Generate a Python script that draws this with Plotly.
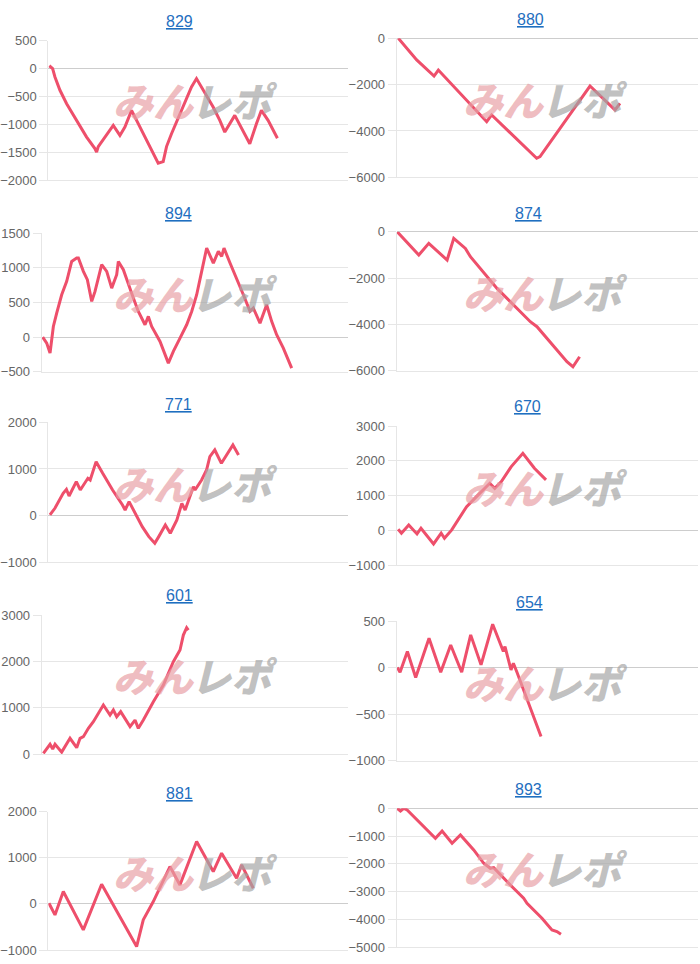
import plotly.graph_objects as go

W, H = 700, 964

# ---------------- data (x = games played, y = cumulative difference) ----------------
titles = ["829", "880", "894", "874", "771", "670", "601", "654", "881", "893"]

x_829 = [33, 144, 222, 389, 611, 944, 1277, 1554, 1610, 1665, 2165, 2387, 2553, 2775, 3053, 3386, 3663, 3830, 3941, 4107, 4385, 4607, 4773, 4940, 5162, 5495, 5717, 5883, 6216, 6494, 6716, 6938, 7104, 7326, 7637]
y_829 = [50, 0, -150, -390, -630, -930, -1230, -1435, -1500, -1400, -1020, -1200, -1050, -750, -1050, -1400, -1700, -1670, -1400, -1170, -810, -510, -330, -180, -390, -690, -930, -1140, -840, -1110, -1350, -990, -750, -930, -1250]

x_880 = [55, 663, 1238, 1381, 2984, 3149, 4641, 4752, 6409, 7238, 7404]
y_880 = [0, -935, -1630, -1370, -3600, -3310, -5180, -5110, -2060, -3090, -2810]

x_894 = [33, 163, 272, 380, 489, 652, 815, 978, 1141, 1196, 1359, 1489, 1631, 1739, 1957, 2120, 2283, 2446, 2500, 2663, 2989, 3152, 3370, 3478, 3587, 3859, 4131, 4294, 4511, 4728, 4892, 5055, 5218, 5381, 5598, 5761, 5870, 5946, 6142, 6359, 6577, 6794, 6902, 7120, 7337, 7500, 7663, 7881, 8153]
y_894 = [0, -87, -230, 154, 347, 612, 805, 1094, 1142, 1142, 950, 829, 516, 660, 1046, 950, 708, 901, 1094, 974, 564, 371, 178, 299, 154, -63, -376, -207, -14, 178, 371, 612, 950, 1287, 1070, 1239, 1166, 1287, 1070, 853, 612, 371, 419, 202, 467, 227, 34, -159, -448]

x_874 = [22, 739, 1070, 1677, 1897, 2283, 2449, 3331, 4434, 4655, 5647, 5846, 6067]
y_874 = [0, -1007, -504, -1223, -288, -720, -1079, -2446, -3885, -4101, -5612, -5828, -5396]

x_771 = [55, 220, 495, 604, 692, 934, 1066, 1319, 1396, 1594, 1813, 2143, 2473, 2561, 2693, 3132, 3352, 3550, 3682, 3901, 4066, 4286, 4451, 4561, 4836, 4891, 5110, 5275, 5385, 5550, 5770, 6154, 6341]
y_771 = [14, 157, 478, 564, 421, 728, 550, 800, 764, 1157, 907, 550, 228, 121, 300, -236, -450, -593, -450, -200, -378, -93, 264, 121, 621, 550, 764, 978, 1264, 1407, 1121, 1514, 1300]

x_670 = [55, 164, 406, 680, 811, 1228, 1480, 1589, 1830, 2050, 2324, 2707, 3091, 3255, 3474, 3803, 4187, 4570, 4954]
y_670 = [29, -86, 153, -105, 58, -393, -86, -230, 10, 297, 681, 1017, 1352, 1208, 1400, 1832, 2215, 1784, 1448]

x_601 = [54, 163, 272, 359, 435, 652, 924, 1141, 1250, 1359, 1522, 1685, 2011, 2229, 2337, 2446, 2576, 2881, 3044, 3152, 3315, 3642, 3968, 4294, 4511, 4620, 4728, 4783]
y_601 = [14, 122, 209, 108, 209, 40, 338, 137, 338, 374, 554, 697, 1057, 841, 949, 805, 913, 590, 733, 554, 733, 1129, 1488, 1992, 2243, 2567, 2725, 2675]

x_654 = [22, 111, 354, 630, 1072, 1459, 1790, 2155, 2453, 2796, 3182, 3536, 3591, 3790, 3868, 3978, 4785]
y_654 = [0, -50, 172, -107, 315, -50, 243, -50, 351, 29, 465, 172, 226, -25, 47, -43, -741]

x_881 = [22, 222, 500, 1167, 1778, 2944, 3166, 3500, 4055, 4388, 4944, 5499, 5777, 6277, 6444, 6833]
y_881 = [14, -239, 268, -564, 427, -925, -347, 51, 810, 412, 1352, 701, 1099, 557, 846, 340]

x_893 = [22, 132, 243, 353, 1290, 1511, 1842, 2118, 2559, 2890, 3110, 3221, 3772, 4213, 4324, 4820, 5151, 5317, 5449]
y_893 = [0, -96, 0, -60, -1079, -815, -1259, -959, -1499, -1978, -2158, -2134, -2758, -3237, -3417, -3957, -4376, -4436, -4532]

xs = [x_829, x_880, x_894, x_874, x_771, x_670, x_601, x_654, x_881, x_893]
ys = [y_829, y_880, y_894, y_874, y_771, y_670, y_601, y_654, y_881, y_893]

y_ranges = [(-2000, 500), (-6000, 0), (-500, 1500), (-6000, 0), (-1000, 2000),
            (-1000, 3000), (0, 3000), (-1000, 500), (-1000, 2000), (-5000, 0)]
y_steps = [500, 2000, 500, 2000, 1000, 1000, 1000, 500, 1000, 1000]
x_max = 10000

# ---------------- layout geometry (pixels) ----------------
plot_boxes = [  # x0, x1, y_top, y_bottom
    (48.3, 348.3, 40.7, 180.0),
    (396.7, 698.3, 38.3, 177.3),
    (41.7, 348.3, 233.3, 371.7),
    (396.5, 698.3, 231.7, 370.7),
    (48.3, 348.3, 422.3, 562.3),
    (396.5, 698.3, 426.0, 565.0),
    (41.7, 348.3, 615.0, 754.0),
    (396.7, 698.3, 621.0, 760.7),
    (48.3, 348.3, 811.7, 950.0),
    (396.5, 698.3, 808.3, 947.3),
]
title_pos = [(180, 21.7), (530, 19.3), (178, 213.3), (528, 213.3), (178, 404),
             (527, 406.7), (179, 595.7), (529, 602.3), (180, 793.3), (528, 789)]
logo_y = [100, 99, 293, 292, 483, 487, 675, 682, 872, 868]

LINE = "#ee4f6b"
GRID = "#e6e6e6"
ZERO = "#cdcdcd"
TICK = "#666666"
FONT = "Liberation Sans, Arial, sans-serif"

fig = go.Figure()
layout = dict(
    width=W, height=H, margin=dict(l=0, r=0, t=0, b=0, pad=0, autoexpand=False),
    paper_bgcolor="white", plot_bgcolor="white", showlegend=False,
    annotations=[],
)


def px_x(v):
    return v / W


def px_y(v):
    return 1 - v / H


for i in range(10):
    n = "" if i == 0 else str(i + 1)
    x0, x1, yt, yb = plot_boxes[i]
    fig.add_trace(go.Scatter(
        x=xs[i], y=ys[i], mode="lines",
        line=dict(color=LINE, width=3), xaxis="x" + n, yaxis="y" + n,
        hoverinfo="skip",
    ))
    lo, hi = y_ranges[i]
    layout["xaxis" + n] = dict(
        domain=[px_x(x0), px_x(x1)], range=[0, x_max], anchor="y" + n,
        showgrid=False, zeroline=False, showticklabels=False, ticks="",
        showline=True, linecolor=GRID, linewidth=1, fixedrange=True,
    )
    layout["yaxis" + n] = dict(
        domain=[px_y(yb), px_y(yt)], range=[lo, hi], anchor="x" + n,
        tickmode="linear", tick0=lo, dtick=y_steps[i],
        showgrid=True, gridcolor=GRID, gridwidth=1,
        zeroline=True, zerolinecolor=ZERO, zerolinewidth=1,
        showline=True, linecolor=GRID, linewidth=1,
        ticks="outside", ticklen=8, tickcolor=GRID, tickwidth=1,
        ticklabelstandoff=0,
        tickfont=dict(family=FONT, size=13, color=TICK),
        fixedrange=True, automargin=False,
    )
    tx, ty = title_pos[i]
    layout["annotations"].append(dict(
        x=px_x(tx), y=px_y(ty), xref="paper", yref="paper",
        text="<u>" + titles[i] + "</u>", showarrow=False,
        font=dict(family=FONT, size=16, color="#1f6fc0"),
        xanchor="center", yanchor="middle",
    ))
    # watermark
    cx = 197 if i % 2 == 0 else 547
    layout["annotations"].append(dict(
        x=px_x(cx), y=px_y(logo_y[i]), xref="paper", yref="paper",
        text="みん", showarrow=False,
        font=dict(family="Noto Sans CJK JP", size=40, weight=900, style="italic",
                  color="rgba(232,160,165,0.7)"),
        xanchor="right", yanchor="middle",
    ))
    layout["annotations"].append(dict(
        x=px_x(cx - 8), y=px_y(logo_y[i]), xref="paper", yref="paper",
        text="レポ", showarrow=False,
        font=dict(family="Noto Sans CJK JP", size=40, weight=900, style="italic",
                  color="rgba(165,165,165,0.7)"),
        xanchor="left", yanchor="middle",
    ))

fig.update_layout(**layout)
fig.write_html("out.html")
